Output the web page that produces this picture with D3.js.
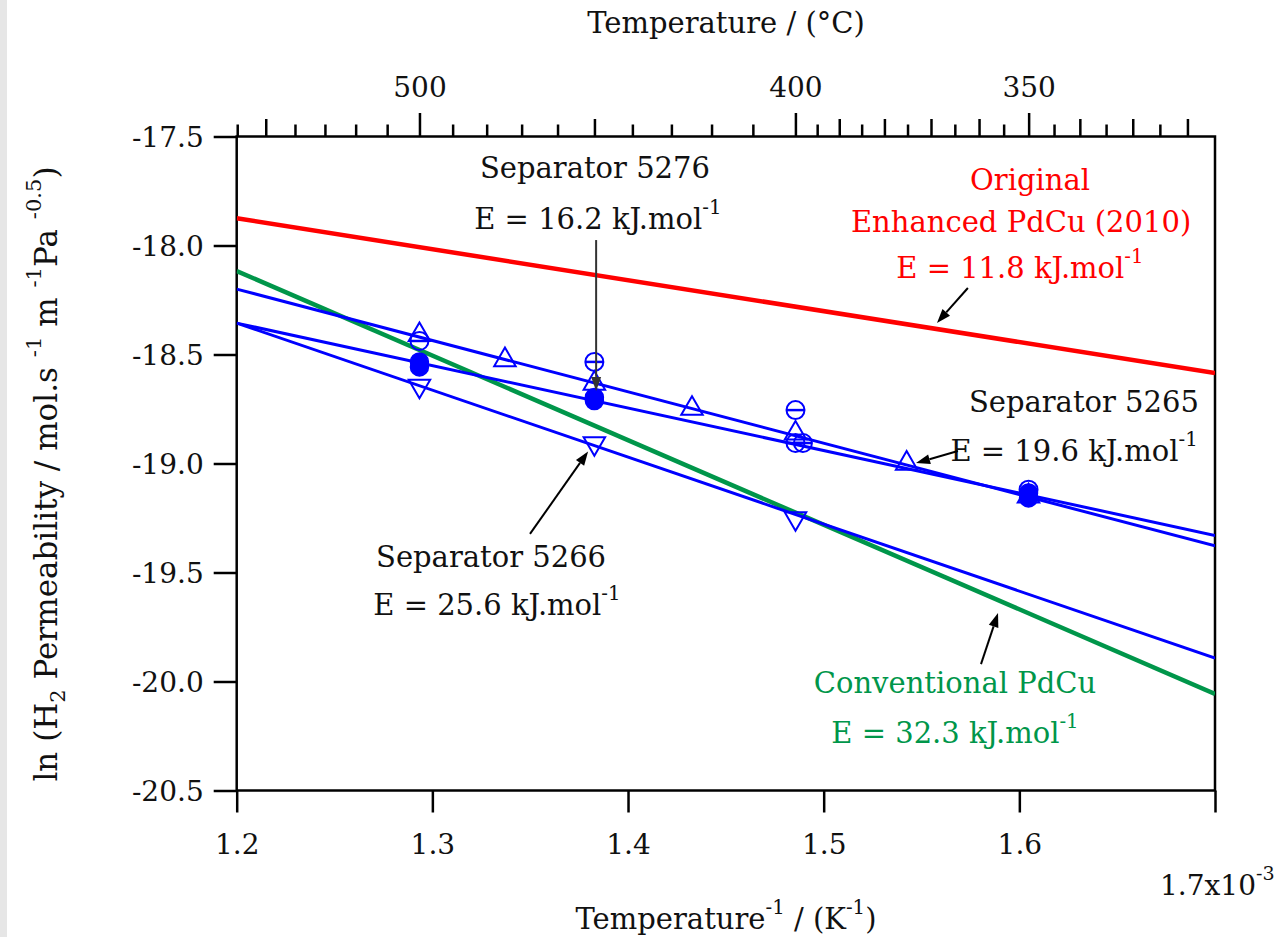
<!DOCTYPE html>
<html>
<head>
<meta charset="utf-8">
<script src="https://cdn.jsdelivr.net/npm/d3@7"></script>
<style>
  body { margin: 0; background: #ffffff; }
  text { font-family: "DejaVu Serif", serif; fill: #111; }
</style>
</head>
<body>
<svg id="chart" width="1277" height="937"></svg>
<script>
// ---------- data ----------
// inverse temperature axis (10^-3 K^-1) and ln(permeability) axis
const xTickValues = [1.2, 1.3, 1.4, 1.5, 1.6, 1.7];
const yTickValues = [-17.5, -18.0, -18.5, -19.0, -19.5, -20.0, -20.5];

// secondary axis in degrees Celsius
const celsiusLabelled = [500, 400, 350];
const celsiusMedium = [550, 450, 390, 380, 370, 360, 340, 330, 320];
const celsiusMinor = [560, 540, 530, 520, 510, 490, 480, 470, 460, 440, 430, 420, 410,
                      395, 385, 375, 365, 355, 345, 335, 325];

// Arrhenius fits, evaluated at both ends of the x range
const fitX = [1.2, 1.7];
const fitOriginal = [-17.875, -18.585];
const fitConventional = [-18.117, -20.057];
const fit5265 = [-18.200, -19.378];
const fit5276 = [-18.356, -19.330];
const fit5266 = [-18.356, -19.893];

// measured permeabilities
const sep5265X = [1.2934, 1.3371, 1.3828, 1.4327, 1.4856, 1.5424, 1.6047];
const sep5265Y = [-18.410, -18.525, -18.633, -18.748, -18.862, -19.000, -19.150];

const sep5276FilledX = [1.2934, 1.2934, 1.3828, 1.3828, 1.6047, 1.6047];
const sep5276FilledY = [-18.534, -18.557, -18.697, -18.711, -19.135, -19.158];

const sep5276BarX = [1.2934, 1.3828, 1.4856, 1.4856, 1.4894, 1.6047];
const sep5276BarY = [-18.438, -18.534, -18.755, -18.906, -18.906, -19.120];

const sep5266X = [1.2934, 1.3828, 1.4856];
const sep5266Y = [-18.644, -18.908, -19.252];

// ---------- layout ----------
const svg = d3.select("#chart");
const W = 1277, H = 937;
const plot = { left: 236.7, right: 1215, top: 136.5, bottom: 790.5 };
const BLUE = "#0000ff", RED = "#ff0000", GREEN = "#00964a";
const FS = 29;

svg.append("rect").attr("width", W).attr("height", H).attr("fill", "#fff");
svg.append("rect").attr("x", 0).attr("y", 0).attr("width", 7).attr("height", H).attr("fill", "#e6e6e6");

const x = d3.scaleLinear().domain([1.2, 1.7]).range([plot.left, plot.right]);
const y = d3.scaleLinear().domain([-17.5, -20.5]).range([plot.top, plot.bottom]);
const invK = c => 1000 / (c + 273.15);

// rich text helper for super/subscripts
function rich(sel, parts, base) {
  let shift = 0;
  parts.forEach(p => {
    const ts = sel.append("tspan").text(p.t);
    let target = 0;
    if (p.sup) { target = -base * 0.52; ts.attr("font-size", base * 0.68); }
    else if (p.sub) { target = base * 0.25; ts.attr("font-size", base * 0.68); }
    ts.attr("dy", target - shift);
    if (p.dx) ts.attr("dx", p.dx);
    shift = target;
  });
  return sel;
}

// ---------- axes ----------
function styleAxis(g) {
  g.select(".domain").remove();
  g.selectAll(".tick line").attr("stroke", "#000").attr("stroke-width", 2.5);
  g.selectAll(".tick text").attr("font-size", 28).attr("fill", "#111");
}

// bottom axis
const gx = svg.append("g").attr("transform", `translate(0,${plot.bottom})`)
  .call(d3.axisBottom(x).tickValues(xTickValues).tickSize(22).tickPadding(12)
    .tickFormat(d => d === 1.7 ? "" : d.toFixed(1)));
styleAxis(gx);
gx.selectAll(".tick text").attr("dy", "1.05em");

// left axis
const gy = svg.append("g").attr("transform", `translate(${plot.left},0)`)
  .call(d3.axisLeft(y).tickValues(yTickValues).tickSize(23).tickPadding(10)
    .tickFormat(d => d.toFixed(1)));
styleAxis(gy);
gy.selectAll(".tick text").attr("dy", "0.36em");

// top axis in Celsius
function topAxis(values, size, labelled) {
  const g = svg.append("g").attr("transform", `translate(0,${plot.top})`)
    .call(d3.axisTop(x).tickValues(values.map(invK)).tickSize(size).tickPadding(16)
      .tickFormat((d, i) => labelled ? values[i] : ""));
  styleAxis(g);
  return g;
}
topAxis(celsiusMinor, 12, false);
topAxis(celsiusMedium, 17.5, false);
topAxis(celsiusLabelled, 23.5, true);

// frame
svg.append("rect")
  .attr("x", plot.left).attr("y", plot.top)
  .attr("width", plot.right - plot.left).attr("height", plot.bottom - plot.top)
  .attr("fill", "none").attr("stroke", "#000").attr("stroke-width", 2.5);

// "1.7x10^-3" label
rich(svg.append("text").attr("x", x(1.7) - 55).attr("y", 895).attr("font-size", 28),
  [{ t: "1.7x10" }, { t: "-3", sup: true }], 28);

// axis titles
svg.append("text").attr("x", 726).attr("y", 33).attr("text-anchor", "middle")
  .attr("font-size", FS).text("Temperature / (°C)");

rich(svg.append("text").attr("x", 726).attr("y", 929).attr("text-anchor", "middle").attr("font-size", FS),
  [{ t: "Temperature" }, { t: "-1", sup: true }, { t: " / (K" }, { t: "-1", sup: true }, { t: ")" }], FS);

const YFS = 31;
rich(svg.append("text").attr("transform", "translate(57,474) rotate(-90)")
  .attr("text-anchor", "middle").attr("font-size", YFS),
  [{ t: "ln (H" }, { t: "2", sub: true }, { t: " Permeability / mol.s " },
   { t: "-1", sup: true }, { t: " m " }, { t: "-1", sup: true }, { t: "Pa " },
   { t: "-0.5", sup: true }, { t: ")" }], YFS);

// ---------- fit lines ----------
const line = d3.line().x(d => x(d[0])).y(d => y(d[1]));
svg.append("clipPath").attr("id", "plotclip").append("rect")
  .attr("x", plot.left).attr("y", plot.top)
  .attr("width", plot.right - plot.left).attr("height", plot.bottom - plot.top);
const gPlot = svg.append("g").attr("clip-path", "url(#plotclip)");

function drawFit(vals, color, width) {
  gPlot.append("path").datum(d3.zip(fitX, vals)).attr("d", line)
    .attr("fill", "none").attr("stroke", color).attr("stroke-width", width);
}
drawFit(fitOriginal, RED, 4.5);
drawFit(fitConventional, GREEN, 4.5);
drawFit(fit5265, BLUE, 3);
drawFit(fit5276, BLUE, 3);
drawFit(fit5266, BLUE, 3);

// ---------- markers ----------
const triUp = d3.symbol().type(d3.symbolTriangle).size(200);
function drawTriangles(xs, ys, flip) {
  gPlot.selectAll(null).data(d3.zip(xs, ys)).join("path")
    .attr("d", triUp)
    .attr("transform", d => `translate(${x(d[0])},${y(d[1])})${flip ? " rotate(180)" : ""}`)
    .attr("fill", "none").attr("stroke", BLUE).attr("stroke-width", 2);
}
drawTriangles(sep5265X, sep5265Y, false);
drawTriangles(sep5266X, sep5266Y, true);

gPlot.selectAll(null).data(d3.zip(sep5276FilledX, sep5276FilledY)).join("circle")
  .attr("cx", d => x(d[0])).attr("cy", d => y(d[1])).attr("r", 9)
  .attr("fill", BLUE).attr("stroke", BLUE).attr("stroke-width", 1.5);

const bars = gPlot.selectAll(null).data(d3.zip(sep5276BarX, sep5276BarY)).join("g")
  .attr("transform", d => `translate(${x(d[0])},${y(d[1])})`);
bars.append("circle").attr("r", 9).attr("fill", "none").attr("stroke", BLUE).attr("stroke-width", 2);
bars.append("line").attr("x1", -9).attr("x2", 9).attr("stroke", BLUE).attr("stroke-width", 2.5);

// ---------- annotations ----------
function arrow(x0, y0, x1, y1, color, width) {
  const px0 = x(x0), py0 = y(y0), px1 = x(x1), py1 = y(y1);
  const ang = Math.atan2(py1 - py0, px1 - px0);
  const len = 14, half = 5;
  const bx = px1 - len * Math.cos(ang), by = py1 - len * Math.sin(ang);
  svg.append("line").attr("x1", px0).attr("y1", py0).attr("x2", bx).attr("y2", by)
    .attr("stroke", color).attr("stroke-width", width);
  svg.append("path")
    .attr("d", `M${px1},${py1}L${bx - half * Math.sin(ang)},${by + half * Math.cos(ang)}L${bx + half * Math.sin(ang)},${by - half * Math.cos(ang)}Z`)
    .attr("fill", color);
}

function label(xd, yd, parts, color) {
  const t = svg.append("text").attr("x", x(xd)).attr("y", y(yd))
    .attr("text-anchor", "middle").attr("font-size", FS).style("fill", color);
  rich(t, parts, FS);
}
const energy = v => [{ t: `E = ${v} kJ.mol` }, { t: "-1", sup: true }];

label(1.3831, -17.690, [{ t: "Separator 5276" }], "#111");
label(1.3846, -17.924, energy("16.2"), "#111");
arrow(1.3837, -17.975, 1.3837, -18.667, "#333", 2);

label(1.6055, -17.745, [{ t: "Original" }], RED);
label(1.6009, -17.938, [{ t: "Enhanced PdCu (2010)" }], RED);
label(1.6003, -18.149, energy("11.8"), RED);
arrow(1.5737, -18.195, 1.5579, -18.355, "#000", 2);

label(1.6330, -18.764, [{ t: "Separator 5265" }], "#111");
label(1.6280, -18.989, energy("19.6"), "#111");
arrow(1.5686, -18.943, 1.5472, -18.998, "#000", 2);

label(1.3300, -19.475, [{ t: "Separator 5266" }], "#111");
label(1.3330, -19.695, energy("25.6"), "#111");
arrow(1.3499, -19.323, 1.3796, -18.945, "#000", 2);

label(1.5671, -20.053, [{ t: "Conventional PdCu" }], GREEN);
label(1.5671, -20.282, energy("32.3"), GREEN);
arrow(1.5804, -19.920, 1.5891, -19.686, "#000", 2);
</script>
</body>
</html>
